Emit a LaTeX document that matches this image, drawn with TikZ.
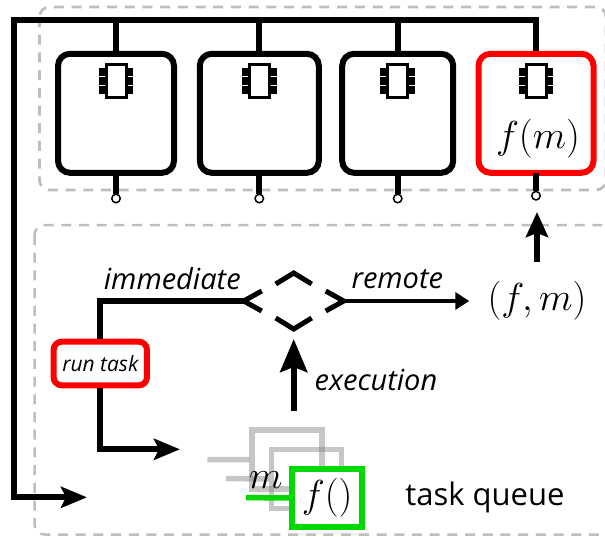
\RequirePackage{fix-cm}
\documentclass[tikz,border=0pt]{standalone}
\usepackage{fontspec}
\setmainfont{Open Sans}
\usetikzlibrary{arrows.meta,calc,shapes.geometric}
\definecolor{boxgreen}{RGB}{0,216,0}
\definecolor{dashgrey}{RGB}{190,190,190}

\tikzset{
    region/.style={draw=dashgrey,line width=2.8pt,rounded corners=10pt,dash pattern=on 10pt off 7.7pt},
    cpu/.style={draw=black,line width=6pt,rounded corners=12pt,fill=white,minimum height=119pt},
    wire/.style={line width=6pt},
    port/.style={circle,draw=black,line width=1.5pt,fill=white,inner sep=0pt,minimum size=8.5pt},
    chevron/.style={line width=5pt},
    job/.style={draw=gray,line width=5.5pt,opacity=0.45,minimum width=70pt,minimum height=59pt},
    jobwire/.style={draw=gray,line width=5.5pt,opacity=0.45},
    label/.style={font=\fontsize{29}{34}\selectfont\itshape,inner sep=0pt},
    mathlabel/.style={font=\fontsize{39}{44}\selectfont,inner sep=0pt},
    bigarrow/.style={-{Stealth[length=33pt,width=27pt,inset=5pt]}},
    midarrow/.style={-{Stealth[length=26pt,width=21pt,inset=5pt]}},
    smallarrow/.style={-{Stealth[length=14pt,width=17pt,inset=0pt]}},
    chip/.pic={
        \foreach \s in {-1,1}{
            \foreach \y in {-9,0,9}{
                \fill (\s*10,\y-4) rectangle (\s*17.3,\y+4);
            }
        }
        \draw[line width=3pt,fill=white] (-10,-16.5) rectangle (10,16.5);
    }
}

\begin{document}
\begin{tikzpicture}[x=1pt,y=-1pt]
    \useasboundingbox (0,0) rectangle (605,536);
    \clip (0,0) rectangle (605,536);

    % the two regions
    \draw[region] (39.5,7) rectangle (606,190);
    \draw[region,line width=2.5pt] (34.5,225) rectangle (640,534.5);

    % the bus
    \coordinate (busleft) at (14,20);
    \coordinate (queuein) at (87,497.3);

    % the cpus
    \foreach \name/\cx/\w in {cpuA/116/116,cpuB/259.3/119,cpuC/397.7/111}{
        \node[cpu,minimum width=\w pt] (\name) at (\cx,113.3) {};
        \pic at (\cx,81.3) {chip};
    }
    \node[cpu,draw=red,minimum width=115pt] (cpuD) at (536,113.3) {};
    \pic at (536,81.3) {chip};
    \node[mathlabel] (result) at (538,139) {$f(m)$};

    \draw[wire,midarrow] (cpuD.north) |- (busleft) -- (busleft |- queuein) -- (queuein);
    \foreach \name in {cpuA,cpuB,cpuC}{
        \draw[wire] (\name.north) -- (\name.north |- busleft);
    }

    \foreach \name/\py in {cpuA/198.5,cpuB/198.5,cpuC/198.5,cpuD/195.7}{
        \node[port] (port\name) at (\name.south |- 0,\py) {};
        \draw[wire,shorten <=-3pt] (\name.south) -- (port\name.north);
    }

    % the decision
    \node[diamond,minimum width=100pt,minimum height=56pt,inner sep=0pt,outer sep=0pt] (decide) at (293.7,301) {};
    \draw[chevron] ($(decide.west)+(18,-10)$) -- (decide.west) -- ($(decide.west)+(18,10)$);
    \draw[chevron] ($(decide.east)+(-18,-10)$) -- (decide.east) -- ($(decide.east)+(-18,10)$);
    \draw[chevron] ($(decide.north)+(-18,11)$) -- (decide.north) -- ($(decide.north)+(18,11)$);
    \draw[chevron] ($(decide.south)+(-18,-11)$) -- (decide.south) -- ($(decide.south)+(18,-11)$);

    \node[mathlabel] (pair) at (537,301) {$(f,m)$};
    \coordinate (pairtop) at (537,262);
    \draw[wire,-{Stealth[length=25pt,width=22pt,inset=4pt]}] (pairtop) -- (537,212);
    \coordinate (remoteend) at (469.3,301);
    \draw[wire,line width=4.5pt,smallarrow] (decide.east) -- (remoteend);

    % the run task box
    \node[draw=red,line width=6pt,rounded corners=8pt,fill=white,minimum width=93.3pt,minimum height=43.6pt,inner sep=0pt,font=\fontsize{21}{25}\selectfont\itshape] (run) at (100.3,363.5) {run task};
    \draw[wire] (run.north) |- (decide.west);
    \coordinate (runout) at (180,449.3);
    \draw[wire,midarrow] (run.south) |- (runout);

    % the queue
    \node[job] (jobA) at (287.2,459.5) {};
    \node[job] (jobB) at (306.7,478.8) {};
    \draw[jobwire] (207.3,459.7) -- (jobA.west);
    \draw[jobwire] (226,478.7) -- (jobB.west);
    \node[mathlabel] (msg) at (265.7,480) {$m$};
    \node[draw=boxgreen,line width=6pt,fill=white,minimum width=70pt,minimum height=58pt,mathlabel] (jobC) at (327.2,497.8) {$f()$};
    \coordinate (jobin) at (246,497.7);
    \draw[draw=boxgreen,line width=5.5pt] (jobin) -- (jobC.west);
    \node[font=\fontsize{31}{36}\selectfont,inner sep=0pt] (queue) at (485,497) {task queue};

    \draw[wire,bigarrow] (293.7,410.7) -- (decide.south |- 0,339);

    % the labels
    \node[label] (immediate) at (172.3,279) {immediate};
    \node[label] (remote) at (397.3,279) {remote};
    \node[label] (execution) at (376,380) {execution};
\end{tikzpicture}
\end{document}
